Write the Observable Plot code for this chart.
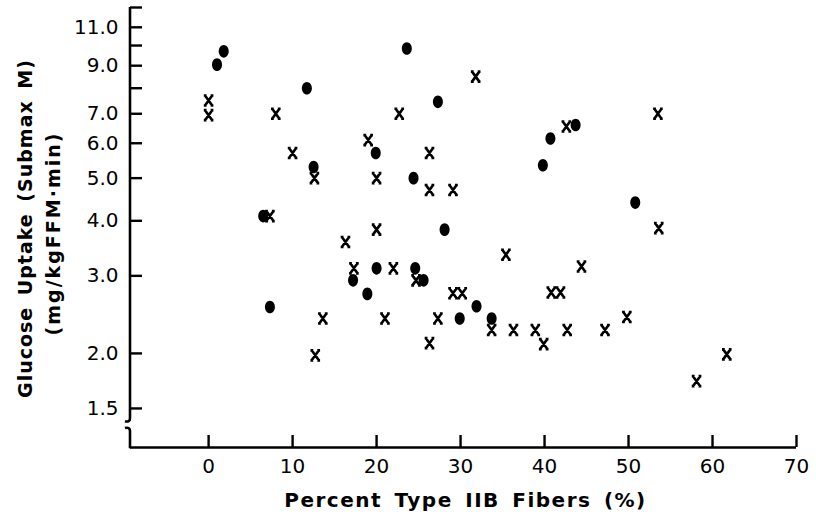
<!DOCTYPE html>
<html>
<head>
<meta charset="utf-8">
<script src="https://cdn.jsdelivr.net/npm/d3@7"></script>
<script src="https://cdn.jsdelivr.net/npm/@observablehq/plot@0.6"></script>
<style>
  html, body { margin: 0; padding: 0; background: #fff; }
  #chart { width: 816px; height: 520px; }
</style>
</head>
<body>
<div id="chart"></div>
<script>
// ---- data ----
const circleX = [1.0, 1.8, 6.5, 7.3, 11.7, 12.5, 17.2, 18.9, 19.9, 20.0, 23.6, 24.4, 24.6, 25.6, 27.3, 28.1, 29.9, 31.9, 33.7, 39.8, 40.7, 43.7, 50.8];
const circleY = [9.05, 9.7, 4.1, 2.55, 8.0, 5.3, 2.93, 2.73, 5.7, 3.12, 9.85, 5.0, 3.12, 2.93, 7.45, 3.82, 2.4, 2.56, 2.4, 5.35, 6.15, 6.6, 4.4];

const crossX = [0, 0, 7.3, 8.0, 10.0, 12.6, 12.7, 13.6, 16.3, 17.3, 19.0, 20.0, 20.0, 21.0, 22.0, 22.7, 24.7, 26.3, 26.3, 26.3, 27.3, 29.1, 29.1, 30.2, 31.8, 33.7, 35.4, 36.3, 38.9, 39.9, 40.8, 41.9, 42.6, 42.7, 44.4, 47.2, 49.8, 53.5, 53.6, 58.1, 61.7];
const crossY = [7.5, 6.95, 4.1, 7.0, 5.7, 5.0, 1.98, 2.4, 3.58, 3.12, 6.1, 5.0, 3.82, 2.4, 3.12, 7.0, 2.93, 5.7, 4.7, 2.11, 2.4, 4.7, 2.74, 2.74, 8.5, 2.26, 3.35, 2.26, 2.26, 2.1, 2.75, 2.75, 6.55, 2.26, 3.15, 2.26, 2.42, 7.0, 3.85, 1.73, 1.99];

const xTicks = [0, 10, 20, 30, 40, 50, 60, 70];
const yTicks = [1.5, 2, 3, 4, 5, 6, 7, 8, 9, 10, 11];
const yTickLabels = [1.5, 2, 3, 4, 5, 6, 7, 9, 11];
const xDomain = [-9.3, 70];
const yDomain = [1.223, 12.2];
const yBreak = [1.35, 1.40];

const xLabel = "Percent Type IIB Fibers (%)";
const yLabel1 = "Glucose Uptake (Submax M)";
const yLabel2 = "(mg/kgFFM·min)";

const circles = circleX.map((x, i) => ({x, y: circleY[i]}));
const crosses = crossX.map((x, i) => ({x, y: crossY[i]}));

// ---- custom symbols ----
const ellipseSymbol = {
  draw(ctx) {
    const rx = 5, ry = 6.3, k = 0.5523;
    ctx.moveTo(rx, 0);
    ctx.bezierCurveTo(rx, ry * k, rx * k, ry, 0, ry);
    ctx.bezierCurveTo(-rx * k, ry, -rx, ry * k, -rx, 0);
    ctx.bezierCurveTo(-rx, -ry * k, -rx * k, -ry, 0, -ry);
    ctx.bezierCurveTo(rx * k, -ry, rx, -ry * k, rx, 0);
    ctx.closePath();
  }
};
const crossSymbol = {
  draw(ctx) {
    const w = 3.6, h = 5;
    ctx.moveTo(-w, -h); ctx.lineTo(w, h);
    ctx.moveTo(w, -h); ctx.lineTo(-w, h);
    ctx.moveTo(-w - 1.2, -h); ctx.lineTo(-w + 1.6, -h);
    ctx.moveTo(w - 1.6, -h); ctx.lineTo(w + 1.2, -h);
    ctx.moveTo(-w - 1.2, h); ctx.lineTo(-w + 1.6, h);
    ctx.moveTo(w - 1.6, h); ctx.lineTo(w + 1.2, h);
  }
};

// y axis line with a break near the bottom
function yAxisLine(index, scales, values, dimensions) {
  const x0 = dimensions.marginLeft;
  const yTop = scales.y(yDomain[1]);
  const yBot = scales.y(yDomain[0]);
  const yU = scales.y(yBreak[1]);
  const yL = scales.y(yBreak[0]);
  const p = d3.path();
  p.moveTo(x0, yTop);
  p.lineTo(x0, yU - 3);
  p.bezierCurveTo(x0, yU, x0 - 2, yU + 1, x0 - 5, yU);
  p.moveTo(x0 - 5, yL);
  p.bezierCurveTo(x0 - 2, yL - 1, x0, yL, x0, yL + 3);
  p.lineTo(x0, yBot + 1.3);
  return d3.create("svg:path")
    .attr("d", p.toString())
    .attr("fill", "none")
    .attr("stroke", "black")
    .attr("stroke-width", 2.6)
    .node();
}

const W = 816, H = 520;
const mL = 130, mR = 20, mT = 7, mB = 73;
const frameW = W - mL - mR, frameH = H - mT - mB;

const chart = Plot.plot({
  width: W, height: H,
  marginLeft: mL, marginRight: mR, marginTop: mT, marginBottom: mB,
  style: {fontFamily: "DejaVu Sans", background: "white", color: "black", overflow: "visible"},
  x: {domain: xDomain},
  y: {type: "log", domain: yDomain},
  marks: [
    Plot.axisX({ticks: xTicks, tickSize: 0, tickPadding: 11, fontSize: 20, label: null, tickFormat: d => String(d)}),
    Plot.axisY({ticks: yTickLabels, tickSize: 0, tickPadding: 12, fontSize: 20, label: null, tickFormat: d => d.toFixed(1)}),
    Plot.ruleY([yDomain[0]], {strokeWidth: 2.6, stroke: "black"}),
    Plot.tickX(xTicks, {x: d => d, insetTop: frameH - 12, strokeWidth: 2.4, stroke: "black"}),
    Plot.tickY([...yTicks, yDomain[1]], {y: d => d, insetRight: frameW - 12, strokeWidth: 2.4, stroke: "black"}),
    yAxisLine,
    Plot.dot(circles, {x: "x", y: "y", r: 5, symbol: ellipseSymbol, fill: "black", stroke: "none"}),
    Plot.dot(crosses, {x: "x", y: "y", r: 5, symbol: crossSymbol, fill: "none", stroke: "black", strokeWidth: 2.6}),
    Plot.text([xLabel], {text: d => d, frameAnchor: "bottom", textAnchor: "middle", lineAnchor: "middle", dy: 53, dx: 2, fontSize: 20, fontWeight: "bold", fill: "black"}),
    Plot.text([yLabel1], {text: d => d, frameAnchor: "left", textAnchor: "middle", lineAnchor: "middle", dx: -105, dy: 1, rotate: -90, fontSize: 19, fontWeight: "bold", fill: "black"}),
    Plot.text([yLabel2], {text: d => d, frameAnchor: "left", textAnchor: "middle", lineAnchor: "middle", dx: -77, dy: 6, rotate: -90, fontSize: 19, fontWeight: "bold", fill: "black"})
  ]
});

// letter spacing for the axis titles
d3.select(chart).selectAll("text").each(function() {
  const t = this.textContent;
  if (t === xLabel) d3.select(this).style("letter-spacing", "1.5px").style("word-spacing", "4px");
  if (t === yLabel1) d3.select(this).style("letter-spacing", "1px").style("word-spacing", "4px");
  if (t === yLabel2) d3.select(this).style("letter-spacing", "2px");
});

document.getElementById("chart").append(chart);
</script>
</body>
</html>
